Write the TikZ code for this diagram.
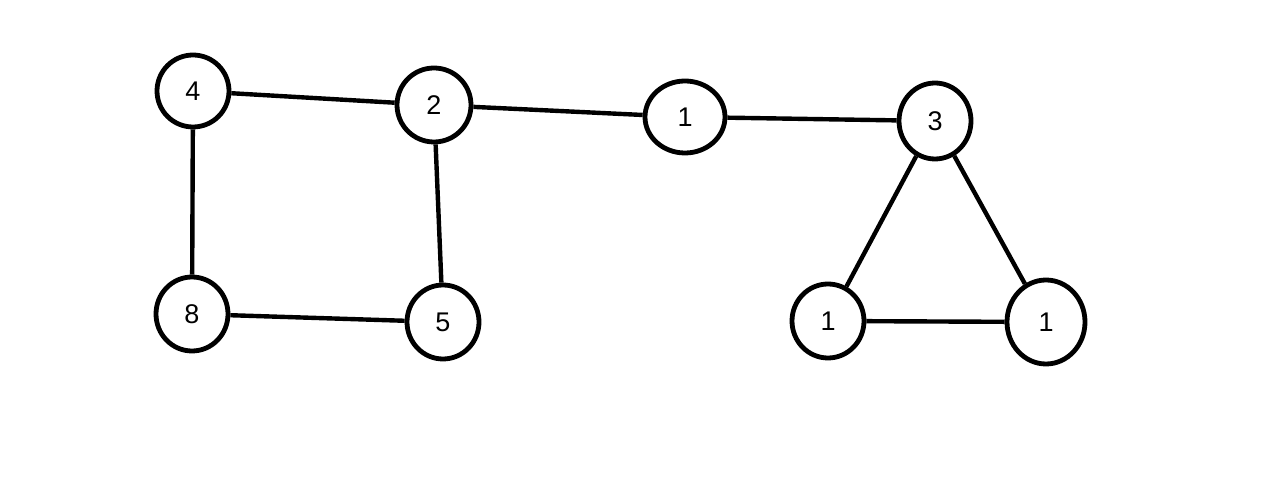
\documentclass[tikz,border=0pt]{standalone}
\usepackage{fontspec}
\setmainfont{Liberation Sans}
\usetikzlibrary{shapes.geometric}
\tikzset{
  v/.style={ellipse,draw=black,fill=white,line width=2.4pt,inner sep=0pt,
    minimum width=36pt,minimum height=36pt,font=\fontsize{13.5}{15}\selectfont},
  edge/.style={draw=black,line width=2.2pt},
}

\begin{document}
\begin{tikzpicture}[x=0.5pt,y=-0.5pt]
\useasboundingbox (0,0) rectangle (1284,485);
\node[v] (n4) at (193,91) {4};
\node[v,minimum width=37pt,minimum height=37pt] (n2) at (434,105) {2};
\node[v,minimum width=40pt] (n1a) at (685,117) {1};
\node[v,minimum height=38pt] (n3) at (935,121) {3};
\node[v,minimum height=37pt] (n8) at (192,314) {8};
\node[v,minimum height=37pt] (n5) at (443,322) {5};
\node[v,minimum height=37pt] (n1b) at (828,321) {1};
\node[v,minimum width=39pt,minimum height=42pt] (n1c) at (1046,322) {1};
\draw[edge] (n4)--(n2);
\draw[edge] (n2)--(n1a);
\draw[edge] (n1a)--(n3);
\draw[edge] (n4)--(n8);
\draw[edge] (n2)--(n5);
\draw[edge] (n8)--(n5);
\draw[edge] (n3)--(n1b);
\draw[edge] (n3)--(n1c);
\draw[edge] (n1b)--(n1c);
\end{tikzpicture}
\end{document}
